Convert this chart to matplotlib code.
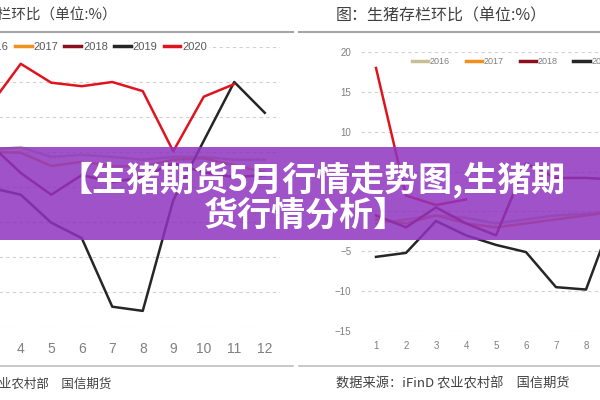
import matplotlib
matplotlib.use("Agg")
import matplotlib.pyplot as plt
from matplotlib.lines import Line2D
from matplotlib.patches import Rectangle

W, H = 600, 400
CJK = ["Noto Sans CJK SC", "DejaVu Sans"]
NARROW = ["Liberation Sans Narrow", "Liberation Sans", "DejaVu Sans"]

years = ["2016", "2017", "2018", "2019", "2020"]
year_colors = ["#c8bd97", "#f0901e", "#8b0f1c", "#262626", "#e0141e"]

# left panel (only months 3..12 are inside the crop)
left_months = [3, 4, 5, 6, 7, 8, 9, 10, 11, 12]
left_2016 = [0.3, 0.7, -0.7, -0.4, -0.7, -1.1, -0.7, -0.7, -1.1, -1.1]
left_2017 = [0.0, -0.1, -2.0, -1.4, -2.0, -2.1, -1.1, -0.9, -1.9, -2.9]
left_2018 = [1.1, -3.0, -6.1, -3.3, -4.3, -3.6, -1.6, -2.9, -3.6, -3.3]
left_2019 = [-5.1, -6.1, -10.1, -12.3, -22.1, -22.7, -6.9, 1.6, 10.0, 5.6]
left_2020 = [6.7, 12.6, 9.9, 9.4, 10.0, 8.7, 0.1, 7.9, 9.7]
left_ticks = [4, 5, 6, 7, 8, 9, 10, 11, 12]

# right panel: 生猪存栏环比 (only months 1..8 fit in the crop)
right_months = [1, 2, 3, 4, 5, 6, 7, 8, 9]
right_2016 = [-1.5, -1.0, -0.5, -0.8, -1.5, -1.0, -0.5, -0.3, 0.0]
right_2017 = [-1.0, -1.5, -0.5, -1.5, -2.0, -1.5, -1.0, -0.5, 0.0]
right_2018 = [-0.5, -2.0, 0.5, -1.5, -3.0, 6.0, 4.2, 4.2, 4.0]
right_2019 = [-5.7, -5.2, -1.2, -3.0, -4.2, -5.1, -9.5, -9.8, 0.3]
right_2020 = [18.0, 2.0, 0.8, 1.5]
right_ticks = [1, 2, 3, 4, 5, 6, 7, 8]

left_series = [left_2016, left_2017, left_2018, left_2019, left_2020]
right_series = [right_2016, right_2017, right_2018, right_2019, right_2020]


def px_axes(fig, x0, x1, ytop, ybot):
    return fig.add_axes([x0 / W, 1 - ybot / H, (x1 - x0) / W, (ybot - ytop) / H])


def style(ax, ylim, step, xticks, xsize, xpad):
    ax.set_xlim(0.5, 12.5)
    ax.set_ylim(*ylim)
    ax.set_yticks(range(ylim[0], ylim[1] + 1, step))
    ax.set_xticks(xticks)
    for s in ax.spines.values():
        s.set_visible(False)
    ax.tick_params(length=0, colors="#7f7f7f", labelsize=xsize)
    ax.tick_params(axis="x", pad=xpad)
    ax.grid(axis="y", color="#d0d0d0", lw=0.8, ls=(0, (3, 3)))
    ax.set_axisbelow(True)
    for t in ax.get_xticklabels() + ax.get_yticklabels():
        t.set_family(NARROW)


fig = plt.figure(figsize=(6, 4), dpi=100)
fig.patch.set_facecolor("white")

# left chart
axl = px_axes(fig, -86, 280, 47, 327)
style(axl, (-25, 15), 5, left_ticks, 10, 11)
axl.tick_params(axis="y", labelleft=False)
for vals, c in zip(left_series, year_colors):
    axl.plot(left_months[:len(vals)], vals, color=c, lw=1.8)

# right chart
axr = px_axes(fig, 361, 721, 52, 331)
style(axr, (-15, 20), 5, right_ticks, 7, 7)
axr.tick_params(axis="y", pad=7)
for vals, c in zip(right_series, year_colors):
    axr.plot(right_months[:len(vals)], vals, color=c, lw=1.8)

handles = [Line2D([], [], color=c, lw=2.5) for c in year_colors]
legl = fig.legend(handles, years, ncol=5, loc="center left",
                  bbox_to_anchor=(-37 / W, 1 - 47 / H), frameon=True,
                  facecolor="white", edgecolor="none", framealpha=1,
                  handlelength=1.5, handletextpad=0.18,
                  columnspacing=0.55, borderpad=0.2, borderaxespad=0,
                  prop={"family": NARROW, "size": 8})
for t in legl.get_texts():
    t.set_color("#595959")
legr = fig.legend(handles, years, ncol=5, loc="center left",
                  bbox_to_anchor=(410 / W, 1 - 62 / H), frameon=True,
                  facecolor="white", edgecolor="none", framealpha=1,
                  handlelength=1.8, handletextpad=0.2,
                  columnspacing=1.75, borderpad=0.2, borderaxespad=0,
                  prop={"family": NARROW, "size": 6.5})
for t in legr.get_texts():
    t.set_color("#7f7f7f")

# titles, rules and sources
fig.text(117 / W, 1 - 16 / H, "存栏环比（单位:%）", ha="right", va="center",
         family=CJK, fontsize=10.5, color="#404040")
fig.text(336 / W, 1 - 16 / H, "图：生猪存栏环比（单位:%）", ha="left", va="center",
         family=CJK, fontsize=11.5, color="#404040")
fig.add_artist(Line2D([0, 293 / W], [1 - 32 / H] * 2, color="#a6a6a6", lw=1.5))
fig.add_artist(Line2D([299 / W, 1], [1 - 32 / H] * 2, color="#a6a6a6", lw=1.5))
fig.add_artist(Line2D([0, 293 / W], [1 - 366 / H] * 2, color="#bfbfbf", lw=1.2))
fig.add_artist(Line2D([299 / W, 1], [1 - 366 / H] * 2, color="#bfbfbf", lw=1.2))
fig.text(111 / W, 1 - 384 / H, "数据来源：iFinD 农业农村部　国信期货", ha="right",
         va="center", family=CJK, fontsize=9, color="#404040")
fig.text(336 / W, 1 - 384 / H, "数据来源：iFinD 农业农村部　国信期货", ha="left",
         va="center", family=CJK, fontsize=9.5, color="#404040")

# purple banner over everything
fig.add_artist(Rectangle((0, 1 - 240 / H), 1, 93 / H, transform=fig.transFigure,
                         facecolor="#8f34bf", alpha=0.85, edgecolor="none", zorder=5))
fig.text(312 / W, 1 - 180 / H, "【生猪期货5月行情走势图,生猪期", ha="center", va="center",
         family=CJK, fontsize=24.5, fontweight="heavy", color="white", zorder=6)
fig.text(306 / W, 1 - 215 / H, "货行情分析】", ha="center", va="center",
         family=CJK, fontsize=24.5, fontweight="heavy", color="white", zorder=6)

fig.savefig("out.png", dpi=100, facecolor="white")
